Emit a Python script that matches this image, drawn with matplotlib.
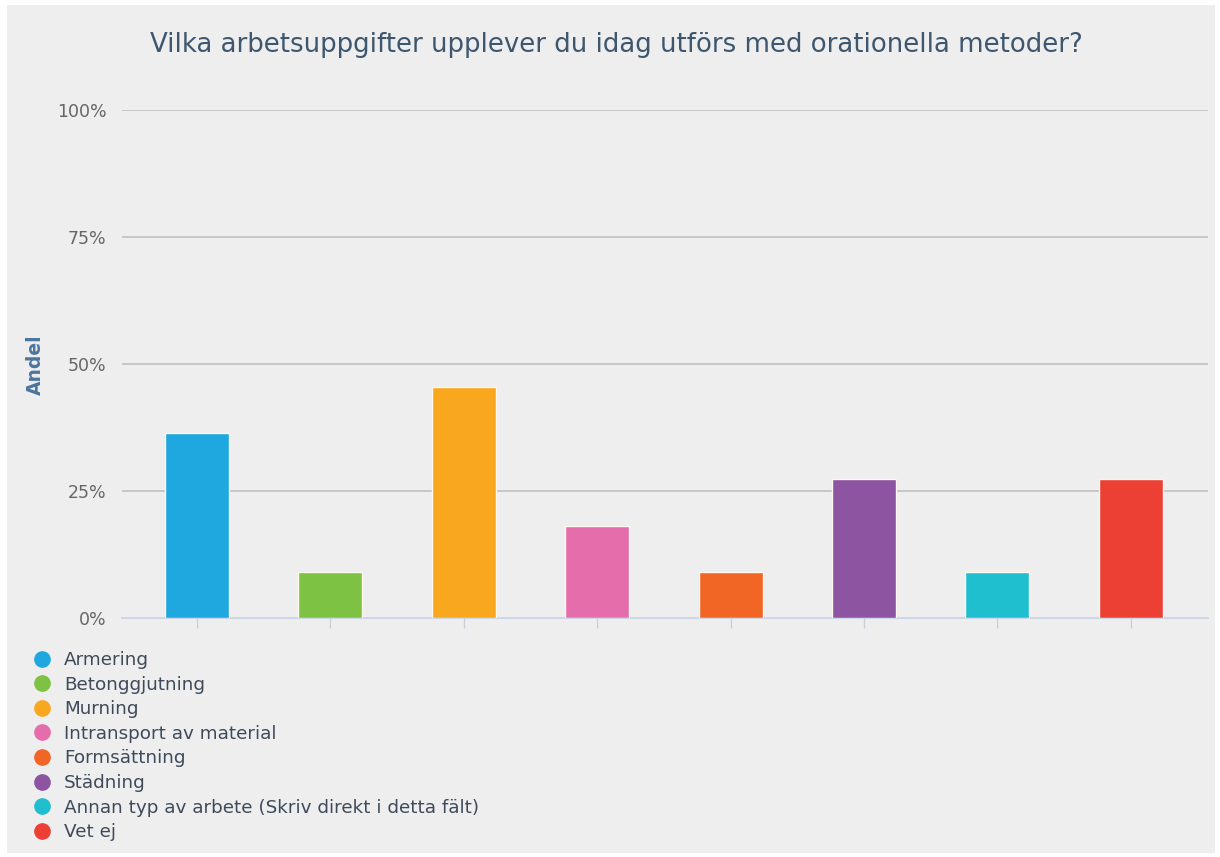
import numpy as np
import matplotlib.pyplot as plt
from matplotlib.lines import Line2D
from matplotlib.patches import Rectangle

# survey answers, share in percent
categories = ['Armering', 'Betonggjutning', 'Murning', 'Intransport av material',
              'Formsättning', 'Städning',
              'Annan typ av arbete (Skriv direkt i detta fält)', 'Vet ej']
shares = [36.4, 9.1, 45.5, 18.2, 9.1, 27.3, 9.1, 27.3]
colors = ['#1fa8e0', '#7dc243', '#f9a71f', '#e66dab', '#f26625',
          '#8d54a2', '#1fbfd0', '#ec4034']
yticks = [0, 25, 50, 75, 100]
ytick_labels = ['0%', '25%', '50%', '75%', '100%']

W, H = 1220, 857
fig = plt.figure(figsize=(W / 100, H / 100), dpi=100)
fig.patch.set_facecolor('white')
fig.patches.append(Rectangle((7 / W, 1 - 853 / H), (1215 - 7) / W, (853 - 5) / H,
                             transform=fig.transFigure, facecolor='#eeeeee',
                             edgecolor='none', zorder=-10))

ax = fig.add_axes([122 / W, 1 - 618 / H, (1208 - 122) / W, (618 - 110) / H])
ax.set_facecolor('none')

x = np.arange(len(categories))
ax.bar(x, shares, width=0.48, color=colors, edgecolor='#fff8ee', linewidth=1.0, zorder=3)

ax.set_xlim(-0.562, 7.578)
ax.set_ylim(0, 100)
ax.set_yticks(yticks)
ax.set_yticklabels(ytick_labels, color='#666666', fontsize=12.5)
ax.tick_params(axis='y', length=0, pad=11)
ax.set_xticks(x)
ax.set_xticklabels([])
ax.tick_params(axis='x', length=7, color='#c8d0dc', width=1)

for v in yticks[1:]:
    ax.axhline(v, color='#c0c0c0', linewidth=1.2, zorder=1)

for s in ['top', 'right', 'left']:
    ax.spines[s].set_visible(False)
ax.spines['bottom'].set_color('#c6d2e4')
ax.spines['bottom'].set_linewidth(1.2)

fig.text(35 / W, 1 - 365 / H, 'Andel', rotation=90, ha='center', va='center',
         color='#4d759e', fontsize=13.5, fontweight='bold')

fig.text(616 / W, 1 - 45 / H, 'Vilka arbetsuppgifter upplever du idag utförs med orationella metoder?',
         ha='center', va='center', color='#3e576f', fontsize=18.7)

# legend as a vertical list of coloured dots
handles = [Line2D([], [], marker='o', linestyle='none', markersize=11,
                  markerfacecolor=c, markeredgecolor=c) for c in colors]
leg = fig.legend(handles, categories, loc='upper left',
                 bbox_to_anchor=(35 / W, 1 - 651 / H), frameon=False,
                 handlelength=0.8, handletextpad=0.78, labelspacing=0.36,
                 borderaxespad=0, borderpad=0, fontsize=13.2)
for t in leg.get_texts():
    t.set_color('#3e4a5a')

fig.savefig('out.png', dpi=100, facecolor=fig.get_facecolor())
